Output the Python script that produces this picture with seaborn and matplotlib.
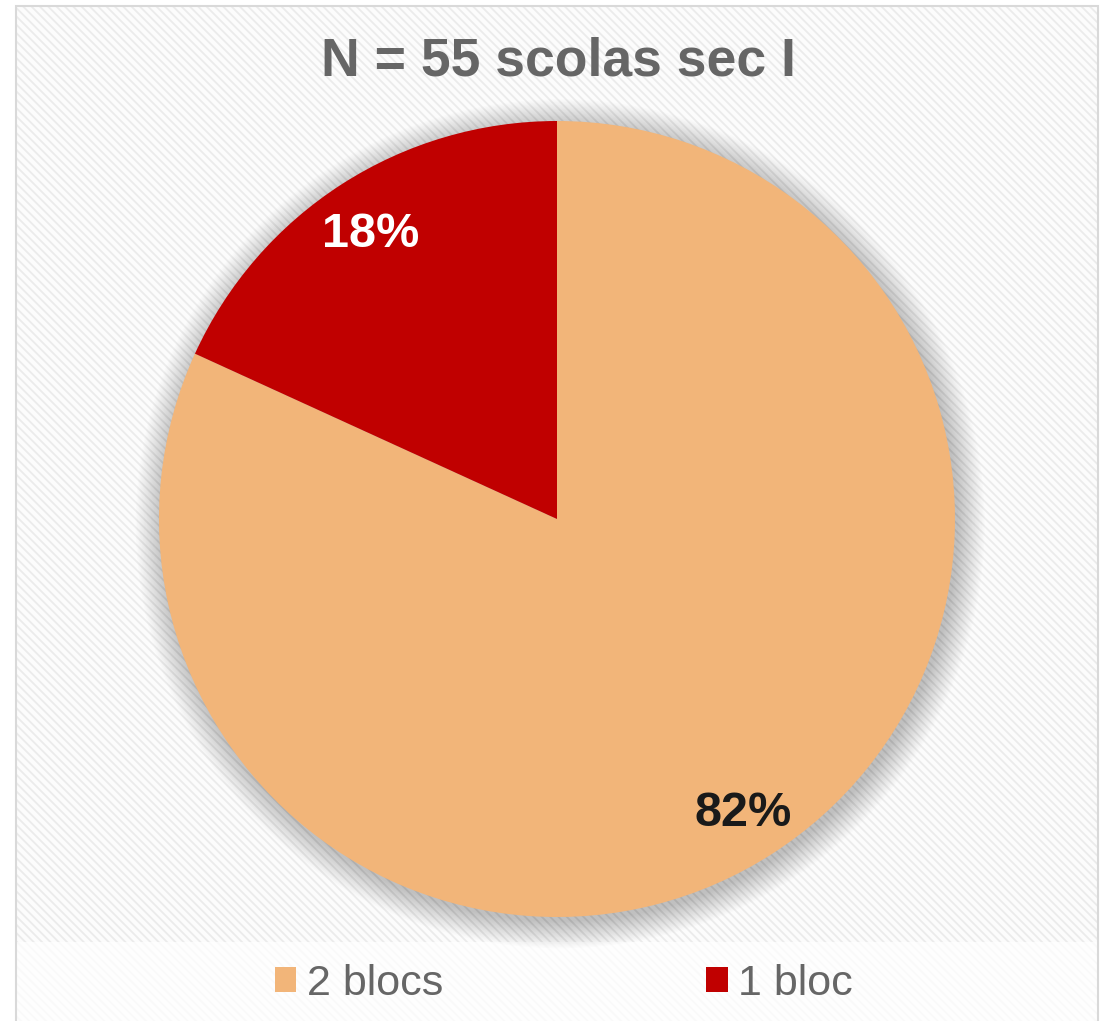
import matplotlib
matplotlib.use("Agg")
import matplotlib.pyplot as plt
import seaborn as sns
from matplotlib.patches import Rectangle, Circle, Patch

# data
categories = ["2 blocs", "1 bloc"]
counts = [45, 10]
colors = ["#F2B579", "#C00000"]
title = "N = 55 scolas sec I"

W, H = 1101, 1021
sns.set_theme(style="white")
plt.rcParams["font.family"] = ["Liberation Sans", "DejaVu Sans"]
plt.rcParams["hatch.color"] = "#ebebeb"
plt.rcParams["hatch.linewidth"] = 1.3

fig = plt.figure(figsize=(W / 100, H / 100), dpi=100)
fig.patch.set_facecolor("white")

def fx(px):
    return px / W

def fy(py):
    return 1 - py / H

# chart area background with fine diagonal stripes
bg = Rectangle((fx(16), fy(1030)), fx(1098) - fx(16), fy(6) - fy(1030),
               transform=fig.transFigure, facecolor="#fcfcfc",
               edgecolor="#ebebeb", linewidth=0, hatch="\\\\\\\\", zorder=0)
fig.patches.append(bg)
legend_bg = Rectangle((fx(16), fy(1030)), fx(1098) - fx(16), fy(942) - fy(1030),
                      transform=fig.transFigure, facecolor="white", alpha=0.75,
                      edgecolor="none", zorder=0.5)
fig.patches.append(legend_bg)
border = Rectangle((fx(16), fy(1030)), fx(1098) - fx(16), fy(6) - fy(1030),
                   transform=fig.transFigure, facecolor="none",
                   edgecolor="#d9d9d9", linewidth=1.5, zorder=0.6)
fig.patches.append(border)

# pie axes: center (557, 519), radius 398 px
cx, cy, r = 557, 519, 398
m = 1.15
ax = fig.add_axes([fx(cx - r * m), fy(cy + r * m), 2 * r * m / W, 2 * r * m / H])
ax.set_zorder(2)
ax.axis("off")
ax.patch.set_alpha(0)

# soft shadow
for i in range(20):
    ax.add_patch(Circle((0.008, -0.012), 1.0 + 0.0035 * i, facecolor="#000000",
                        alpha=0.011, edgecolor="none", zorder=1))

wedges, texts, autotexts = ax.pie(
    counts, colors=colors, startangle=90, counterclock=False,
    autopct=lambda p: f"{p:.0f}%", pctdistance=0.865, radius=1.0,
    wedgeprops=dict(linewidth=0, zorder=2),
    textprops=dict(fontsize=35, fontweight="bold"),
)
ax.set_xlim(-m, m)
ax.set_ylim(-m, m)
autotexts[0].set_color("#1a1a1a")
autotexts[1].set_color("white")
for t in autotexts:
    x, y = t.get_position()
    t.set_position((x, y - 0.012))
    t.set_zorder(5)

fig.text(fx(558), fy(76), title, ha="center", va="baseline",
         fontsize=38.5, fontweight="bold", color="#666666", zorder=3)

handles = [Patch(facecolor=c, edgecolor="none", label=l) for c, l in zip(colors, categories)]
leg = fig.legend(handles=handles, loc="center", bbox_to_anchor=(fx(564), fy(984)),
                 ncol=2, frameon=False, fontsize=31, labelcolor="#666666",
                 handlelength=0.5, handleheight=0.5, handletextpad=0.25,
                 columnspacing=6.1)
leg.set_zorder(3)

fig.savefig("out.png", dpi=100)
